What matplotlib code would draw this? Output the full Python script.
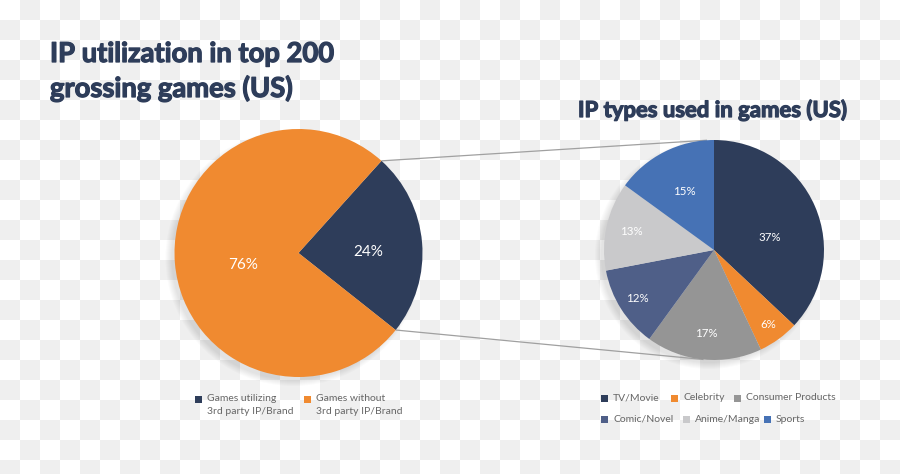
import numpy as np
import matplotlib
matplotlib.use("Agg")
import matplotlib.pyplot as plt
import matplotlib.patheffects as pe
from matplotlib.patches import Rectangle, Circle

# ---------------- data ----------------
left_title = ["IP utilization in top 200", "grossing games (US)"]
left_labels = ["Games utilizing\n3rd party IP/Brand", "Games without\n3rd party IP/Brand"]
left_values = [24, 76]

right_title = "IP types used in games (US)"
right_labels = ["TV/Movie", "Celebrity", "Consumer Products",
                "Comic/Novel", "Anime/Manga", "Sports"]
right_values = [37, 6, 17, 12, 13, 15]

# ---------------- style ----------------
W, H = 900, 474
NAVY = "#2e3d5a"
left_colors = [NAVY, "#f08a30"]
right_colors = [NAVY, "#f08a30", "#959595", "#4f5f88", "#c9c9cb", "#4672b5"]
TITLE_FONT = ["Lato", "DejaVu Sans"]
BODY_FONT = ["Lato", "DejaVu Sans"]
BOLDER = [pe.withStroke(linewidth=0.9, foreground=NAVY)]

fig = plt.figure(figsize=(W / 100, H / 100), dpi=100)
fig.patch.set_facecolor("white")

# checkerboard background (transparent-image preview)
yy, xx = np.mgrid[0:H, 0:W]
chk = ((xx // 20 + yy // 20) % 2).astype(bool)
bg = np.full((H, W, 3), 255, dtype=np.uint8)
bg[chk] = 239
fig.figimage(bg, xo=0, yo=0, origin="upper", zorder=-10)

ax = fig.add_axes([0, 0, 1, 1], zorder=5)
ax.patch.set_alpha(0)

def Y(y):
    return H - y

# pie geometry (pixels)
lc, lr = (298.5, Y(253)), 124
rc, rr = (714, Y(250)), 110

def shadow(center, r):
    for k in range(0, 7):
        ax.add_patch(Circle((center[0] - 5, center[1] - 5), r - 2 + k,
                            color="black", alpha=0.014, lw=0, zorder=1))

shadow(lc, lr)
shadow(rc, rr)

lw, _ = ax.pie(left_values, colors=left_colors, startangle=-38.4,
               counterclock=True, center=lc, radius=lr,
               wedgeprops=dict(linewidth=0, zorder=2))
rw, _ = ax.pie(right_values, colors=right_colors, startangle=90,
               counterclock=False, center=rc, radius=rr,
               wedgeprops=dict(linewidth=0, zorder=2))
for w in list(lw) + list(rw):
    w.set_zorder(2)

# percentage labels
def put_labels(wedges, values, center, r, dists, shifts, size):
    for w, v, d, s in zip(wedges, values, dists, shifts):
        a = np.deg2rad((w.theta1 + w.theta2) / 2 + s)
        ax.text(center[0] + d * r * np.cos(a), center[1] + d * r * np.sin(a),
                f"{v}%", ha="center", va="center", color="white",
                fontsize=size, family=BODY_FONT, zorder=5)

put_labels(lw, left_values, lc, lr, [0.56, 0.46], [-4, 7], 11)
put_labels(rw, right_values, rc, rr, [0.52, 0.84, 0.76, 0.83, 0.77, 0.6],
           [-11, 0, 0, 0, 0, 0], 8.3)

# connector lines: from edges of the first left wedge, tangent to right pie
def tangent_point(p, c, r, upper):
    dx, dy = p[0] - c[0], p[1] - c[1]
    d = np.hypot(dx, dy)
    base = np.arctan2(dy, dx)
    off = np.arccos(r / d)
    ang = base - off if upper else base + off
    return c[0] + r * np.cos(ang), c[1] + r * np.sin(ang)

w0 = lw[0]
for theta, upper in [(w0.theta2, True), (w0.theta1, False)]:
    a = np.deg2rad(theta)
    p = (lc[0] + lr * np.cos(a), lc[1] + lr * np.sin(a))
    q = tangent_point(p, rc, rr, upper)
    ax.plot([p[0], q[0]], [p[1], q[1]], color="#a0a0a0", lw=0.9, zorder=1.5,
            solid_capstyle="butt")

# titles
ax.text(50, Y(62), left_title[0], fontsize=19.7, fontweight="bold",
        family=TITLE_FONT, color=NAVY, va="baseline", ha="left",
        path_effects=BOLDER)
ax.text(50, Y(97), left_title[1], fontsize=19.7, fontweight="bold",
        family=TITLE_FONT, color=NAVY, va="baseline", ha="left",
        path_effects=BOLDER)
ax.text(578, Y(117), right_title, fontsize=15.9, fontweight="bold",
        family=TITLE_FONT, color=NAVY, va="baseline", ha="left",
        path_effects=BOLDER)

# legends
LEG = "#666666"
left_leg_pos = [(198, 399), (307, 399)]
for (x, y), c, lab in zip(left_leg_pos, left_colors, left_labels):
    ax.add_patch(Rectangle((x - 3.5, Y(y) - 3.5), 7, 7, color=c, lw=0, zorder=3))
    ax.text(x + 9, Y(y - 5), lab, fontsize=7.5, family=BODY_FONT, color=LEG,
            va="top", ha="left", linespacing=1.55)

right_leg_pos = [(604, 398), (674, 398), (737, 398),
                 (604, 419), (686, 419), (767, 419)]
for (x, y), c, lab in zip(right_leg_pos, right_colors, right_labels):
    ax.add_patch(Rectangle((x - 3.5, Y(y) - 3.5), 7, 7, color=c, lw=0, zorder=3))
    ax.text(x + 9, Y(y), lab, fontsize=7.5, family=BODY_FONT, color=LEG,
            va="center", ha="left")

ax.set_xlim(0, W)
ax.set_ylim(0, H)
ax.set_aspect("auto")
ax.axis("off")

fig.savefig("out.png", dpi=100)
